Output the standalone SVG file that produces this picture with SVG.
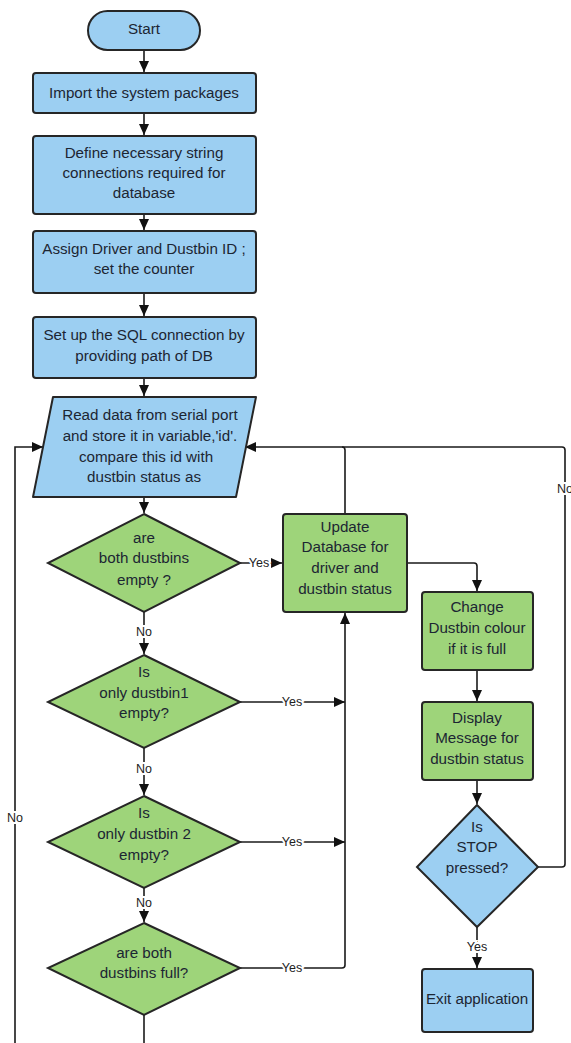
<svg xmlns="http://www.w3.org/2000/svg" width="571" height="1043" viewBox="0 0 571 1043">
<style>
.blue{fill:#9ccff2;stroke:#262626;stroke-width:2}
.green{fill:#9ed47a;stroke:#262626;stroke-width:2}
.t{font-family:"Liberation Sans",Arial,sans-serif;font-size:15.2px;fill:#1c2633;text-anchor:middle}
.lbl{font-family:"Liberation Sans",Arial,sans-serif;font-size:12.5px;fill:#222;text-anchor:middle;stroke:#fff;stroke-width:4px;paint-order:stroke;dominant-baseline:central}
.c{fill:none;stroke:#1a1a1a;stroke-width:1.6}
</style>
<defs>
<marker id="ah" markerUnits="userSpaceOnUse" markerWidth="12" markerHeight="10" refX="11" refY="5" orient="auto">
<path d="M0,0 L11,5 L0,10 Z" fill="#111"/>
</marker>
</defs>
<g id="connectors">
<path class="c" d="M144,50 V72" marker-end="url(#ah)"/>
<path class="c" d="M144,113 V135" marker-end="url(#ah)"/>
<path class="c" d="M144,214 V230" marker-end="url(#ah)"/>
<path class="c" d="M144,293 V316" marker-end="url(#ah)"/>
<path class="c" d="M144,378 V396" marker-end="url(#ah)"/>
<path class="c" d="M144,497 V513" marker-end="url(#ah)"/>
<path class="c" d="M240,563 H282" marker-end="url(#ah)"/>
<path class="c" d="M144,612 V654" marker-end="url(#ah)"/>
<path class="c" d="M240,702 H345" marker-end="url(#ah)"/>
<path class="c" d="M144,748 V795" marker-end="url(#ah)"/>
<path class="c" d="M240,842 H345" marker-end="url(#ah)"/>
<path class="c" d="M144,888 V922" marker-end="url(#ah)"/>
<path class="c" d="M240,968 H342 Q345,968 345,965 V613" marker-end="url(#ah)"/>
<path class="c" d="M144,1015 V1043"/>
<path class="c" d="M15,1043 V447 H43" marker-end="url(#ah)"/>
<path class="c" d="M345,514 V450 Q345,447 342,447"/>
<path class="c" d="M407,563 H474 Q477,563 477,566 V591" marker-end="url(#ah)"/>
<path class="c" d="M477,670 V701" marker-end="url(#ah)"/>
<path class="c" d="M477,780 V804" marker-end="url(#ah)"/>
<path class="c" d="M538,867 H562 Q565,867 565,864 V450 Q565,447 562,447 H245" marker-end="url(#ah)"/>
<path class="c" d="M477,927 V968" marker-end="url(#ah)"/>
<text class="lbl" x="259" y="563">Yes</text>
<text class="lbl" x="144" y="632">No</text>
<text class="lbl" x="292" y="702">Yes</text>
<text class="lbl" x="144" y="769">No</text>
<text class="lbl" x="292" y="842">Yes</text>
<text class="lbl" x="144" y="903">No</text>
<text class="lbl" x="292" y="968">Yes</text>
<text class="lbl" x="15" y="818">No</text>
<text class="lbl" x="565" y="489">No</text>
<text class="lbl" x="477" y="947">Yes</text>
</g>
<g id="start">
<rect class="blue" x="88" y="11" width="112" height="39" rx="19.5"/>
<text class="t" x="144" y="34">Start</text>
</g>
<g id="import">
<rect class="blue" x="33" y="73" width="223" height="40" rx="3"/>
<text class="t" x="144" y="98">Import the system packages</text>
</g>
<g id="define">
<rect class="blue" x="33" y="136" width="223" height="78" rx="3"/>
<text class="t" x="144" y="158">Define necessary string</text>
<text class="t" x="144" y="178">connections required for</text>
<text class="t" x="144" y="198">database</text>
</g>
<g id="assign">
<rect class="blue" x="33" y="231" width="223" height="62" rx="3"/>
<text class="t" x="144" y="254">Assign Driver and Dustbin ID ;</text>
<text class="t" x="144" y="274">set the counter</text>
</g>
<g id="sql">
<rect class="blue" x="33" y="317" width="223" height="61" rx="3"/>
<text class="t" x="144" y="340">Set up the SQL connection by</text>
<text class="t" x="144" y="361">providing path of DB</text>
</g>
<g id="read">
<path class="blue" d="M53,397 H256 L236,497 H33 Z" stroke-linejoin="round"/>
<text class="t" x="150" y="420">Read data from serial port</text>
<text class="t" x="150" y="441">and store it in variable,'id'.</text>
<text class="t" x="146" y="462">compare this id with</text>
<text class="t" x="144" y="482">dustbin status as</text>
</g>
<g id="d1">
<path class="green" d="M144,514 L240,563 L144,612 L48,563 Z"/>
<text class="t" x="144" y="543">are</text>
<text class="t" x="144" y="563">both dustbins</text>
<text class="t" x="144" y="585">empty ?</text>
</g>
<g id="d2">
<path class="green" d="M144,655 L240,702 L144,748 L48,702 Z"/>
<text class="t" x="144" y="677">Is</text>
<text class="t" x="144" y="698">only dustbin1</text>
<text class="t" x="144" y="718">empty?</text>
</g>
<g id="d3">
<path class="green" d="M144,796 L240,842 L144,888 L48,842 Z"/>
<text class="t" x="144" y="818">Is</text>
<text class="t" x="144" y="839">only dustbin 2</text>
<text class="t" x="144" y="860">empty?</text>
</g>
<g id="d4">
<path class="green" d="M144,923 L240,968 L144,1015 L48,968 Z"/>
<text class="t" x="144" y="958">are both</text>
<text class="t" x="144" y="978">dustbins full?</text>
</g>
<g id="update">
<rect class="green" x="283" y="514" width="124" height="98" rx="3"/>
<text class="t" x="345" y="532">Update</text>
<text class="t" x="345" y="552">Database for</text>
<text class="t" x="345" y="573">driver and</text>
<text class="t" x="345" y="594">dustbin status</text>
</g>
<g id="change">
<rect class="green" x="422" y="592" width="111" height="78" rx="3"/>
<text class="t" x="477" y="612">Change</text>
<text class="t" x="477" y="633">Dustbin colour</text>
<text class="t" x="477" y="654">if it is full</text>
</g>
<g id="display">
<rect class="green" x="422" y="702" width="111" height="78" rx="3"/>
<text class="t" x="477" y="723">Display</text>
<text class="t" x="477" y="743">Message for</text>
<text class="t" x="477" y="764">dustbin status</text>
</g>
<g id="stop">
<path class="blue" d="M477,805 L538,867 L477,927 L417,867 Z"/>
<text class="t" x="477" y="832">Is</text>
<text class="t" x="477" y="852">STOP</text>
<text class="t" x="477" y="873">pressed?</text>
</g>
<g id="exit">
<rect class="blue" x="422" y="969" width="111" height="63" rx="3"/>
<text class="t" x="477" y="1004">Exit application</text>
</g>
</svg>
